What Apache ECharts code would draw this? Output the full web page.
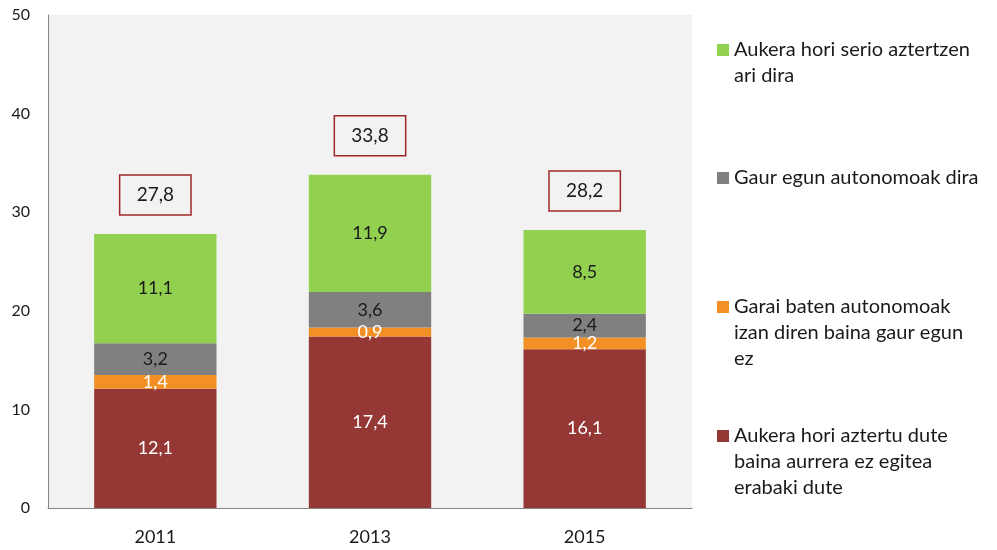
<!DOCTYPE html>
<html>
<head>
<meta charset="utf-8">
<script src="https://cdn.jsdelivr.net/npm/echarts@6/dist/echarts.min.js"></script>
<style>
    html, body { margin: 0; padding: 0; background: #fff; }
    #main { width: 997px; height: 550px; }
</style>
</head>
<body>
<div id="main"></div>
<script>
var years = ['2011', '2013', '2015'];
var names = [
    'Aukera hori aztertu dute baina aurrera ez egitea erabaki dute',
    'Garai baten autonomoak izan diren baina gaur egun ez',
    'Gaur egun autonomoak dira',
    'Aukera hori serio aztertzen ari dira'
];
var wrapped = [
    'Aukera hori aztertu dute\nbaina aurrera ez egitea\nerabaki dute',
    'Garai baten autonomoak\nizan diren baina gaur egun\nez',
    'Gaur egun autonomoak dira',
    'Aukera hori serio aztertzen\nari dira'
];
var decided = [12.1, 17.4, 16.1];
var formerly = [1.4, 0.9, 1.2];
var nowSelf = [3.2, 3.6, 2.4];
var seriously = [11.1, 11.9, 8.5];
var totals = [27.8, 33.8, 28.2];
var colors = ['#953735', '#f39025', '#808080', '#92d050'];
var labelColors = ['#ffffff', '#ffffff', '#1a1a1a', '#1a1a1a'];
var values = [decided, formerly, nowSelf, seriously];

var font = 'Lato, "Open Sans", sans-serif';
function comma(v) { return String(v).replace('.', ','); }

var myChart = echarts.init(document.getElementById('main'));

var series = [];
for (var i = 0; i < names.length; i++) {
    series.push({
        name: names[i],
        type: 'bar',
        stack: 'total',
        barWidth: '57%',
        data: values[i],
        itemStyle: { color: colors[i] },
        label: {
            show: true,
            position: 'inside',
            color: labelColors[i],
            fontFamily: font,
            fontSize: 18,
            formatter: function (p) { return comma(p.value); }
        }
    });
}
series.push({
    name: 'total',
    type: 'bar',
    barWidth: '57%',
    barGap: '-100%',
    silent: true,
    data: totals,
    itemStyle: { color: 'rgba(0,0,0,0)' },
    z: 1,
    label: {
        show: true,
        position: 'top',
        distance: 19,
        color: '#1a1a1a',
        fontFamily: font,
        fontSize: 19,
        lineHeight: 22,
        padding: [9, 17, 9, 17],
        borderColor: '#a0282a',
        borderWidth: 1.5,
        formatter: function (p) { return comma(p.value); }
    }
});

// one legend per entry; blank lines in front keep the icon on the first text line
var iconY = [436, 307, 178, 50];
var legends = [];
for (var j = 0; j < names.length; j++) {
    var lines = wrapped[j].split('\n').length;
    var pad = new Array(lines).join('\n');
    legends.push({
        data: [names[j]],
        left: 717,
        top: iconY[j] - 13 - (lines - 1) * 26,
        padding: 0,
        itemWidth: 12,
        itemHeight: 12,
        itemGap: 6,
        icon: 'rect',
        selectedMode: false,
        formatter: (function (txt) { return function () { return txt; }; })(pad + wrapped[j]),
        textStyle: {
            fontFamily: font,
            fontSize: 20,
            lineHeight: 26,
            color: '#1a1a1a'
        }
    });
}

var option = {
    animation: false,
    backgroundColor: '#ffffff',
    legend: legends,
    grid: {
        left: 48,
        right: 305,
        top: 15,
        bottom: 42,
        show: true,
        backgroundColor: '#f2f2f2',
        borderWidth: 0
    },
    xAxis: {
        type: 'category',
        data: years,
        axisLine: { show: true, lineStyle: { color: '#868686', width: 1 } },
        axisTick: { show: false },
        axisLabel: { color: '#1a1a1a', fontFamily: font, fontSize: 18, margin: 20 }
    },
    yAxis: {
        type: 'value',
        min: 0,
        max: 50,
        interval: 10,
        splitLine: { show: false },
        axisLine: { show: true, lineStyle: { color: '#868686', width: 1 } },
        axisTick: { show: false },
        axisLabel: { color: '#1a1a1a', fontFamily: font, fontSize: 16, margin: 18 }
    },
    series: series
};
myChart.setOption(option);
</script>
</body>
</html>
